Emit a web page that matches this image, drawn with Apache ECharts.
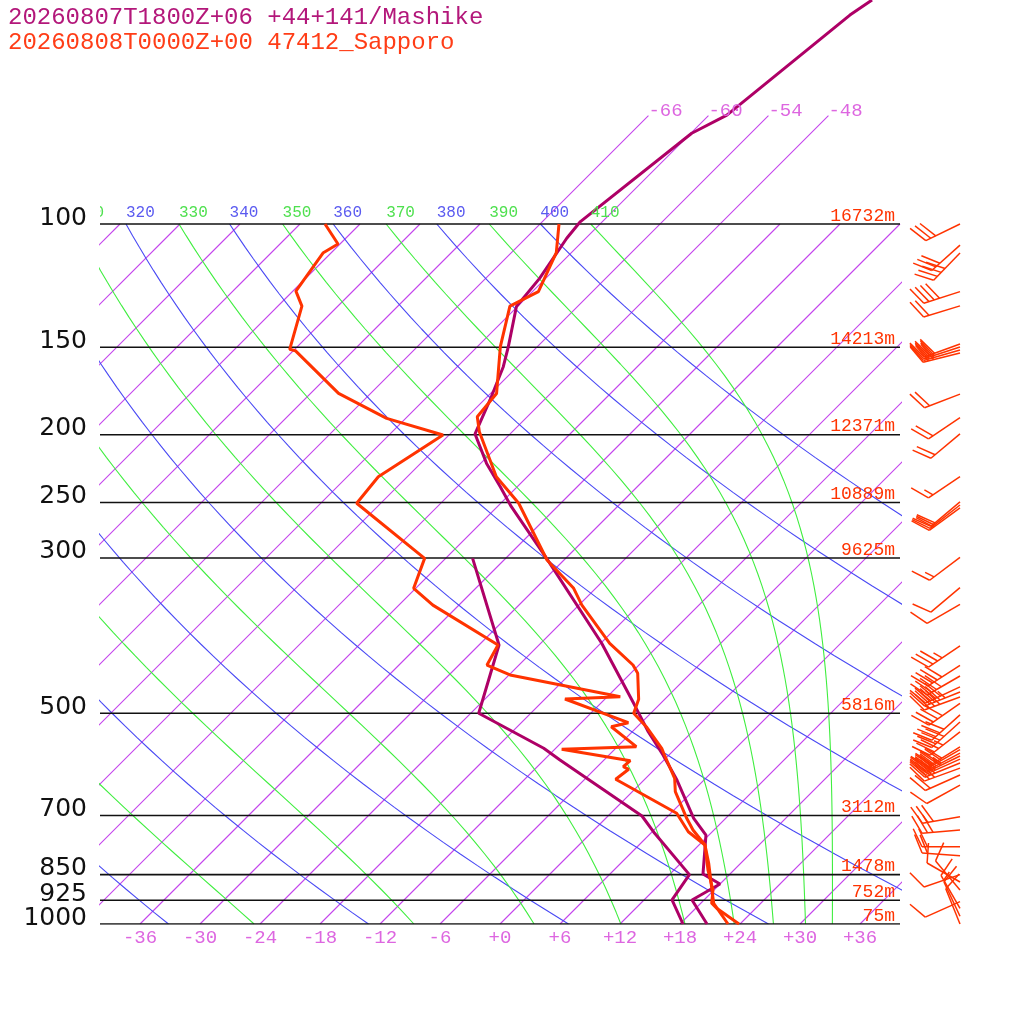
<!DOCTYPE html>
<html>
<head>
<meta charset="utf-8">
<title>Skew-T Mashike / Sapporo</title>
<script src="https://cdn.jsdelivr.net/npm/echarts@6.0.0/dist/echarts.min.js"></script>
<style>
    html, body { margin: 0; width: 100%; height: 100%; background: #fff; }
    #chart { width: 1024px; height: 1024px; }
</style>
</head>
<body>
<div id="chart"></div>
<script>
    // Sapporo 47412 (hPa / degC)
    var sapTP = [100, 109.9, 124.9, 131.0, 149.7, 174.6, 188.5, 198.0, 229.6, 250.6, 302.0, 331.5, 350.3, 397.2, 426.6, 438.4,
        477.6, 500, 522.6, 561.0, 570.3, 619.3, 647.1, 706.3, 734.0, 771.2, 837.3, 894.3, 934.2, 949.7, 1000];
    var sapT = [-64.1, -61.5, -59.4, -60.8, -57.7, -53.4, -53.0, -51.3, -45.1, -40.2, -31.7, -26.2, -23.7, -17.1, -12.6, -11.3,
        -8.6, -7.7, -5.1, -1.4, -0.7, 2.9, 4.3, 8.1, 9.9, 12.6, 15.4, 17.9, 19.1, 20.1, 23.9];
    var sapTdP = [100, 106.8, 109.9, 124.7, 131.0, 151.0, 151.7, 174.6, 189.5, 200.2, 229.6, 250.6, 300.4, 331.5, 350.3, 399.4,
        426.6, 440.8, 473.5, 477.1, 515.7, 522.6, 558.1, 562.9, 584.4, 596.1, 601.2, 621.3, 694.8, 738.2, 771.2, 819.0, 894.3, 934.2, 1000];
    var sapTd = [-87.5, -84.2, -84.8, -83.7, -81.6, -78.5, -77.8, -69.2, -61.9, -54.6, -56.9, -56.4, -44.1, -42.2, -38.6, -28.1,
        -27.2, -23.9, -10.7, -16.0, -7.3, -8.6, -4.1, -11.3, -3.3, -3.4, -2.6, -2.9, 6.6, 9.6, 12.6, 14.8, 17.8, 19.3, 22.8];

    // Mashike model point
    var masTP = [47.86, 50.3, 69.9, 74.2, 99.2, 104.8, 119.6, 131.2, 149.7, 159.9, 178.4, 199.5, 219.8, 237.3, 253.4, 300.4,
        397.2, 483.9, 531.3, 573.5, 622.8, 706.3, 746.3, 848.4, 876.8, 924.0, 1000];
    var masT = [-55.2, -55.9, -58.2, -59.9, -62.2, -61.9, -60.6, -60.1, -56.9, -55.4, -53.4, -51.5, -47.4, -43.7, -40.6, -31.9,
        -17.9, -8.7, -4.4, -0.6, 3.3, 8.8, 11.7, 15.3, 18.0, 16.8, 20.7];
    var masTdP = [300.4, 399.4, 500, 561.0, 583.1, 701.0, 742.1, 850, 924.0, 1000];
    var masTd = [-39.3, -28.0, -23.2, -13.2, -10.4, 3.4, 6.4, 14.0, 14.8, 18.3];

    // Sapporo winds (hPa, deg, kt)
    var windP = [100, 107.2, 110.0, 124.9, 130.9, 148.4, 149.9, 151.4, 152.9, 175.0, 189.1, 199.4, 229.6, 249.5, 252.0, 254.5,
        299.4, 330.8, 349.4, 400.6, 427.0, 442.3, 458.5, 466.1, 473.9, 483.9, 502.6, 514.6, 531.5, 558.3, 563.5, 569.9,
        575.5, 581.4, 588.9, 598.9, 612.6, 633.2, 702.7, 734.0, 775.5, 798.7, 850, 871.0, 894.3, 929.2, 950, 975, 1000];
    var windDir = [244, 228, 224, 252, 253, 250, 252, 254, 256, 249, 236, 230, 236, 230, 232, 234,
        233, 230, 240, 236, 237, 240, 245, 248, 250, 235, 228, 228, 232, 238, 240, 242,
        244, 246, 248, 250, 246, 241, 260, 265, 270, 274, 251, 300, 320, 246, 330, 335, 338];
    var windSpd = [30, 30, 40, 40, 20, 30, 30, 30, 30, 20, 20, 20, 15, 20, 20, 20,
        15, 10, 10, 35, 40, 40, 40, 45, 40, 40, 40, 40, 35, 40, 40, 35,
        35, 30, 30, 25, 20, 10, 30, 30, 20, 20, 10, 10, 10, 10, 15, 10, 10];

    var levels = [100, 150, 200, 250, 300, 500, 700, 850, 925, 1000];
    var heights = ['16732m', '14213m', '12371m', '10889m', '9625m', '5816m', '3112m', '1478m', '752m', '75m'];
    var xTicks = [-36, -30, -24, -18, -12, -6, 0, 6, 12, 18, 24, 30, 36];
    var isoTopLabels = [-66, -60, -54, -48];
    var dryTheta = [240, 260, 280, 300, 320, 340, 360, 380, 400];
    var moistTheta = [250, 270, 290, 310, 330, 350, 370, 390, 410];

    var SKEW = 70;                       // degC per pressure decade
    var P_TOP = 1000 / Math.pow(10, 924 / 700);
    var ISO_C = '#c444ec', BLUE = '#4a4af4', GREEN = '#40ee40';
    var SAP_C = '#ff3300', MAS_C = '#ae0066';
    var MONO = '"Liberation Mono", "DejaVu Sans Mono", monospace';

    function skx(t, p) { return t + SKEW * Math.log10(1000 / p); }
    function pairs(ps, ts) { return ps.map(function (p, i) { return [skx(ts[i], p), p]; }); }

    var pSteps = [];
    for (var i = 0; i <= 60; i++) pSteps.push(1000 * Math.pow(10, -i / 60));

    function thetaE(tc, p) {
        var tk = tc + 273.15;
        var es = 6.112 * Math.exp(17.67 * tc / (tc + 243.5));
        if (es > 0.4 * p) return 1e6 + tc;
        var r = 622 * es / (p - es);
        return tk * Math.pow(1000 / p, 0.2854 * (1 - 0.00028 * r)) * Math.exp((3.376 / tk - 0.00254) * r * (1 + 0.00081 * r));
    }
    function moistT(te, p) {
        var lo = -140, hi = 60;
        for (var k = 0; k < 50; k++) {
            var mid = (lo + hi) / 2;
            if (thetaE(mid, p) < te) lo = mid; else hi = mid;
        }
        return (lo + hi) / 2;
    }

    function line(data, color, width, z) {
        return {
            type: 'line', data: data, showSymbol: false, symbol: 'none', silent: true, z: z,
            lineStyle: {color: color, width: width}, clip: true, animation: false
        };
    }

    var series = [];

    // isotherms
    for (var isoT = -108; isoT <= 36; isoT += 6) {
        var pEnd = isoTopLabels.indexOf(isoT) >= 0 ? 70 : 100;
        series.push(line([[skx(isoT, 1000), 1000], [skx(isoT, pEnd), pEnd]], ISO_C, 1.1, 1));
    }
    // dry adiabats
    dryTheta.forEach(function (th) {
        series.push(line(pSteps.map(function (p) {
            return [skx(th * Math.pow(p / 1000, 0.2857) - 273.15, p), p];
        }), BLUE, 1.1, 1));
    });
    // saturated adiabats
    moistTheta.forEach(function (te) {
        series.push(line(pSteps.map(function (p) {
            return [skx(moistT(te, p), p), p];
        }), GREEN, 1.1, 1));
    });
    // pressure levels
    levels.forEach(function (p) {
        series.push(line([[-40, p], [40, p]], '#111', 1.6, 2));
    });

    // soundings
    series.push(line(pairs(masTdP, masTd), MAS_C, 3, 3));
    series.push(line(pairs(masTP, masT), MAS_C, 3, 3));
    series.push(line(pairs(sapTdP, sapTd), SAP_C, 3, 4));
    series.push(line(pairs(sapTP, sapT), SAP_C, 3, 4));

    // text helpers
    function textSeries(items, clip) {
        return {
            type: 'custom', silent: true, z: 6, clip: clip, animation: false,
            data: items.map(function (it) { return [it.x, it.p]; }),
            renderItem: function (params, api) {
                var it = items[params.dataIndex];
                var pt = api.coord([it.x, it.p]);
                return {
                    type: 'text', x: pt[0] + it.dx, y: pt[1] + it.dy,
                    style: {
                        text: it.text, fill: it.color, fontSize: it.size, fontFamily: it.font,
                        align: it.align, verticalAlign: 'middle'
                    }
                };
            }
        };
    }

    var freeTexts = [];
    levels.forEach(function (p, i) {
        freeTexts.push({x: -40, p: p, dx: -13, dy: -6, text: String(p), color: '#111', size: 25,
            font: '"DejaVu Sans", sans-serif', align: 'right'});
        freeTexts.push({x: 40, p: p, dx: -5, dy: -8, text: heights[i], color: SAP_C, size: 18,
            font: MONO, align: 'right'});
    });
    isoTopLabels.forEach(function (t) {
        freeTexts.push({x: skx(t, 70), p: 70, dx: 0, dy: -5, text: String(t), color: '#dd66e0', size: 19,
            font: MONO, align: 'left'});
    });
    series.push(textSeries(freeTexts, false));

    var thetaTexts = [];
    dryTheta.forEach(function (th) {
        thetaTexts.push({x: skx(th * Math.pow(0.1, 0.2857) - 273.15, 100), p: 100, dx: 0, dy: -11, text: String(th),
            color: '#5a5af0', size: 16, font: MONO, align: 'left'});
    });
    moistTheta.forEach(function (te) {
        thetaTexts.push({x: skx(moistT(te, 100), 100), p: 100, dx: 0, dy: -11, text: String(te),
            color: '#4fe04f', size: 16, font: MONO, align: 'left'});
    });
    series.push(textSeries(thetaTexts, true));

    // wind barbs, station column right of the diagram
    series.push({
        type: 'custom', silent: true, z: 5, clip: false, animation: false,
        data: windP.map(function (p, i) { return [40, p, windDir[i], windSpd[i]]; }),
        renderItem: function (params, api) {
            var pt = api.coord([api.value(0), api.value(1)]);
            var x0 = pt[0] + 60, y0 = pt[1];
            var rad = api.value(2) * Math.PI / 180, spd = api.value(3);
            var ux = Math.sin(rad), uy = -Math.cos(rad);
            var xe = x0 + 38 * ux, ye = y0 + 38 * uy;
            var a = 64 * Math.PI / 180;
            var bx = ux * Math.cos(a) - uy * Math.sin(a);
            var by = ux * Math.sin(a) + uy * Math.cos(a);
            var st = {stroke: SAP_C, lineWidth: 1.5};
            var kids = [{type: 'line', shape: {x1: x0, y1: y0, x2: xe, y2: ye}, style: st}];
            var full = Math.floor(spd / 10), half = spd % 10 >= 5, pos = 0;
            for (var k = 0; k < full; k++) {
                var sx = xe - ux * pos, sy = ye - uy * pos;
                kids.push({type: 'line', shape: {x1: sx, y1: sy, x2: sx + bx * 20, y2: sy + by * 20}, style: st});
                pos += 5.5;
            }
            if (half) {
                if (full === 0) pos = 5.5;
                var hx = xe - ux * pos, hy = ye - uy * pos;
                kids.push({type: 'line', shape: {x1: hx, y1: hy, x2: hx + bx * 10, y2: hy + by * 10}, style: st});
            }
            return {type: 'group', children: kids};
        }
    });

    var chart = echarts.init(document.getElementById('chart'));
    chart.setOption({
        animation: false,
        backgroundColor: '#fff',
        title: [
            {text: '20260807T1800Z+06 +44+141/Mashike', left: 3, top: 1,
                textStyle: {color: '#b3177a', fontFamily: MONO, fontSize: 24, fontWeight: 'normal'}},
            {text: '20260808T0000Z+00 47412_Sapporo', left: 3, top: 26,
                textStyle: {color: '#ff3d17', fontFamily: MONO, fontSize: 24, fontWeight: 'normal'}}
        ],
        grid: {left: 100, top: 0, width: 800, height: 924},
        xAxis: {
            type: 'value', min: -40, max: 40,
            axisLine: {show: false}, axisTick: {show: false}, splitLine: {show: false},
            axisLabel: {
                customValues: xTicks, margin: 4, color: '#dd66e0', fontFamily: MONO, fontSize: 19,
                formatter: function (v) { return v >= 0 ? '+' + v : String(v); }
            }
        },
        yAxis: {type: 'log', min: P_TOP, max: 1000, inverse: true, show: false},
        series: series
    });
</script>
</body>
</html>
